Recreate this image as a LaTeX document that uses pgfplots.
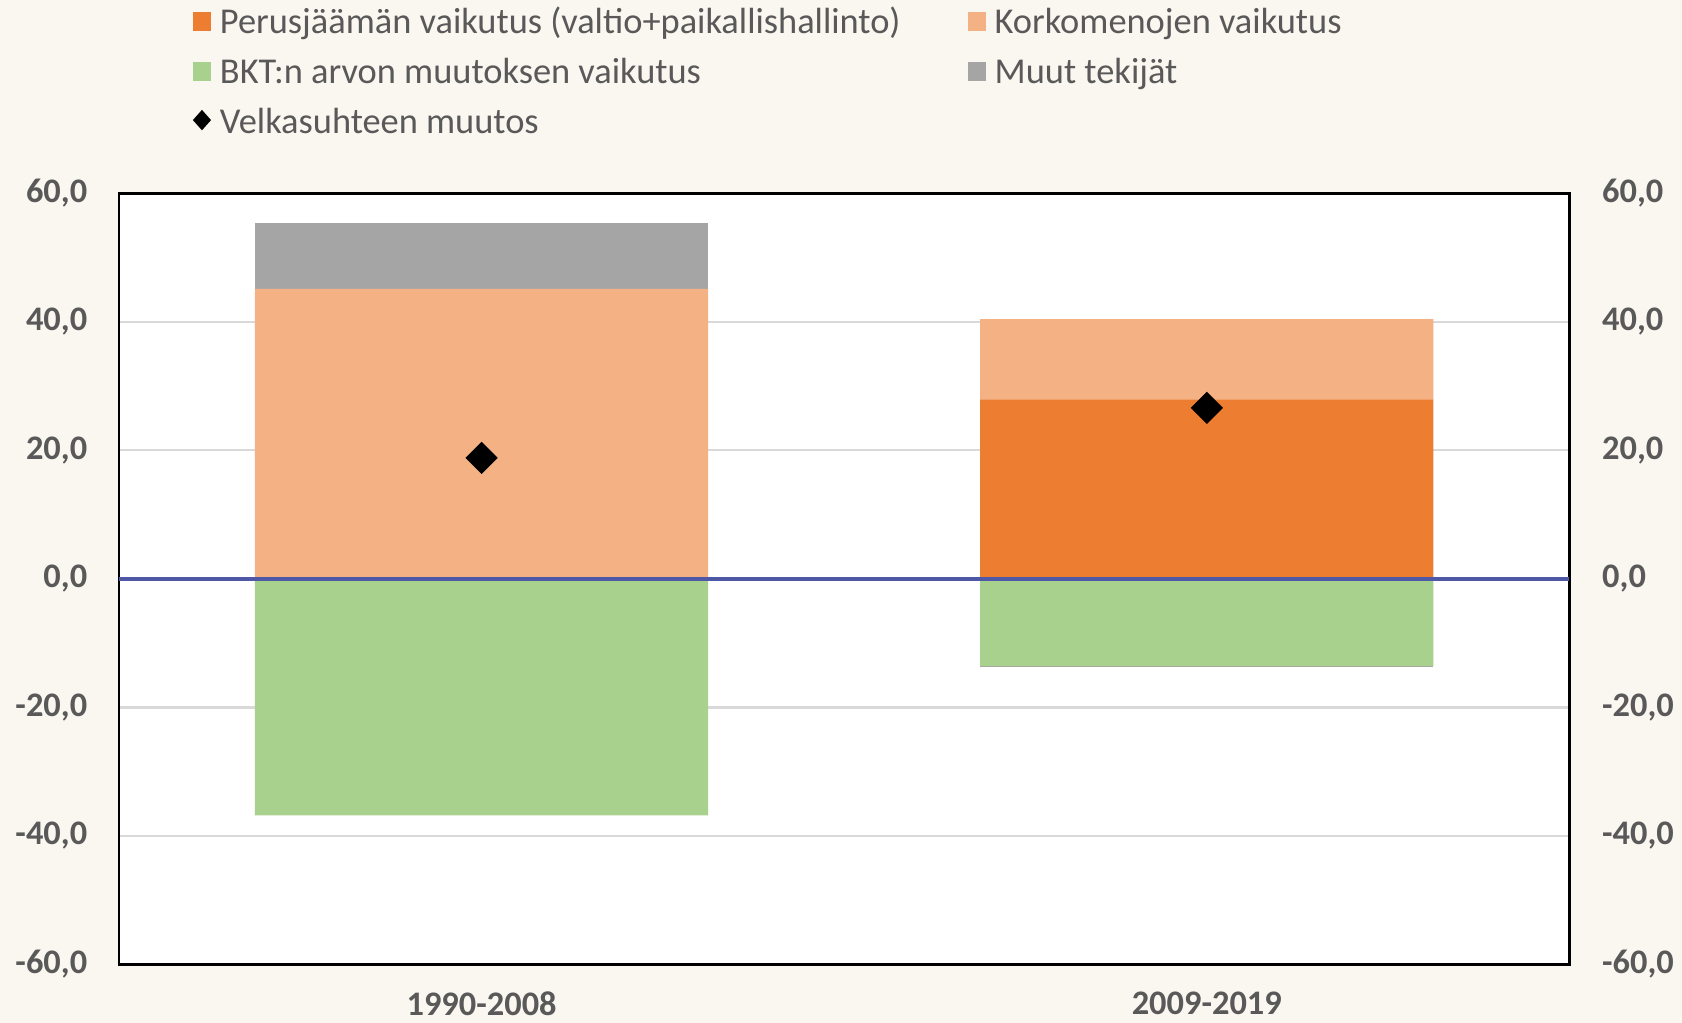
\documentclass[border=0pt]{standalone}
\usepackage{fontspec}
\setmainfont{Carlito}
\usepackage{pgfplots}
\pgfplotsset{compat=1.18}

\definecolor{bg}{RGB}{250,246,240}
\definecolor{perus}{RGB}{237,125,49}
\definecolor{korko}{RGB}{244,177,131}
\definecolor{bkt}{RGB}{169,209,142}
\definecolor{muut}{RGB}{165,165,165}
\definecolor{txt}{RGB}{89,89,89}
\definecolor{zeroc}{RGB}{79,88,166}
\definecolor{gridc}{RGB}{217,217,217}

\pgfplotsset{
  frame/.style={
    width=362.6pt, height=192.8pt, scale only axis,
    at={(29.75pt,14.65pt)}, anchor=south west,
    xmin=-0.5, xmax=1.5, ymin=-60, ymax=60,
    ytick={-60,-40,...,60}, xtick={0,1},
    bar width=0.625, major tick length=0pt, tick style={draw=none},
    /pgf/number format/fixed, /pgf/number format/fixed zerofill,
    /pgf/number format/precision=1, /pgf/number format/use comma,
    /pgf/number format/assume math mode=true,
    tick label style={font=\bfseries\fontsize{8.6}{10}\selectfont, text=txt, inner sep=0pt},
  },
  sq/.style={legend image code/.code={\fill[##1] (0pt,-1.9pt) rectangle (4.5pt,2.9pt);}},
  dia/.style={legend image code/.code={\fill[black] (2.25pt,-1.45pt) -- (4.25pt,0.8pt) -- (2.25pt,3.05pt) -- (0.25pt,0.8pt) -- cycle;}},
}

\begin{document}
\begin{tikzpicture}
\fill[bg] (0,0) rectangle (420.5pt,255.75pt);

% positive parts, frame, grid, left labels, legend
\begin{axis}[frame, ybar stacked,
  axis background/.style={fill=white},
  axis line style={black, line width=0.7pt},
  ymajorgrids, grid style={gridc, line width=0.6pt},
  yticklabel style={xshift=-7.75pt},
  xticklabels={1990-2008,2009-2019},
  xticklabel style={anchor=north, yshift=-6.6pt},
  legend columns=2, legend cell align=left,
  legend style={at={(0.0510,1.2437)}, anchor=north west, draw=none, fill=none,
    inner sep=0pt, outer sep=0pt, row sep=3.5pt,
    font=\fontsize{9.1}{10}\selectfont, text=txt,
    nodes={inner sep=0pt, text height=7pt, text depth=2pt, text=txt},
    /tikz/every odd column/.append style={column sep=2.25pt},
    /tikz/every even column/.append style={column sep=16.75pt}},
]
\addplot[fill=perus, draw=none, sq] coordinates {(0,0.2) (1,27.9)};
\addlegendentry{Perusjäämän vaikutus (valtio+paikallishallinto)}
\addplot[fill=korko, draw=none, sq] coordinates {(0,44.9) (1,12.5)};
\addlegendentry{Korkomenojen vaikutus}
\addlegendimage{fill=bkt, draw=none, sq}
\addlegendentry{BKT:n arvon muutoksen vaikutus}
\addplot[fill=muut, draw=none, sq] coordinates {(0,10.2) (1,0)};
\addlegendentry{Muut tekijät}
\addlegendimage{dia}
\addlegendentry{Velkasuhteen muutos}
\end{axis}

% negative parts
\begin{axis}[frame, ybar stacked, hide axis]
\addplot[fill=bkt, draw=none] coordinates {(0,-36.8) (1,-13.6)};
\addplot[fill=muut, draw=none] coordinates {(0,0) (1,-0.2)};
\end{axis}

% zero line, markers, right labels
\begin{axis}[frame, axis line style={draw=none}, xtick=\empty,
  yticklabel pos=right, yticklabel style={xshift=8pt}]
\draw[zeroc, line width=1pt] (axis cs:-0.5,0) -- (axis cs:1.5,0);
\addplot[only marks, mark=square*, mark size=2.65pt,
  mark options={rotate=45, fill=black, draw=none}]
  coordinates {(0,18.8) (1,26.6)};
\end{axis}

\pgfresetboundingbox
\useasboundingbox (0,0) rectangle (420.5pt,255.75pt);
\end{tikzpicture}
\end{document}
